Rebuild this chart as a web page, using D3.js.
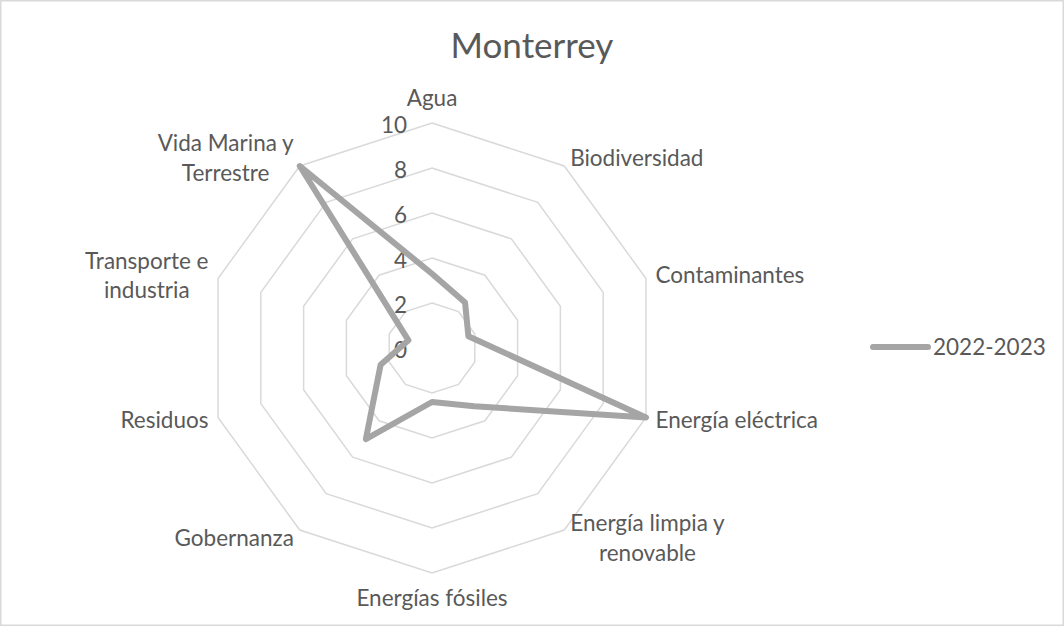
<!DOCTYPE html>
<html>
<head>
<meta charset="utf-8">
<script src="https://cdn.jsdelivr.net/npm/d3@7"></script>
<style>
	body { margin: 0; background: #fff; }
	svg { display: block; }
</style>
</head>
<body>
<svg id="chart" width="1064" height="626"></svg>
<script>
var chartTitle = "Monterrey";
var categories = ["Agua", "Biodiversidad", "Contaminantes", "Energía eléctrica", "Energía limpia y renovable",
	"Energías fósiles", "Gobernanza", "Residuos", "Transporte e industria", "Vida Marina y Terrestre"];
var seriesName = "2022-2023";
var seriesValues = [3.3, 2.5, 1.7, 10, 3.2, 2.4, 5, 2.4, 1.1, 10];
var radialTicks = [0, 2, 4, 6, 8, 10];

var width = 1064, height = 626;
var center = {x: 432, y: 348}, radius = 225;
var font = "Lato, 'Open Sans', sans-serif";
var textColor = "#595959", gridColor = "#d9d9d9", lineColor = "#a5a5a5";
var labelSize = 22.5, titleSize = 35, lineHeight = 29.5;
var capH = labelSize * 0.7;

var svg = d3.select("#chart");

svg.append("rect")
	.attr("x", 0.75)
	.attr("y", 0.75)
	.attr("width", width - 1.5)
	.attr("height", height - 1.5)
	.attr("fill", "#fff")
	.attr("stroke", gridColor)
	.attr("stroke-width", 1.5);

svg.append("text")
	.attr("x", width / 2)
	.attr("y", 58)
	.attr("text-anchor", "middle")
	.attr("font-family", font)
	.attr("font-size", titleSize)
	.attr("fill", textColor)
	.text(chartTitle);

var r = d3.scaleLinear()
	.domain([0, d3.max(radialTicks)])
	.range([0, radius]);

var angle = d3.scaleLinear()
	.domain([0, categories.length])
	.range([0, 2 * Math.PI]);

var group = svg.append("g")
	.attr("transform", "translate(" + center.x + "," + center.y + ")");

// grid rings, no spokes
group.selectAll(".ring")
	.data(radialTicks.filter(d => d > 0))
	.enter().append("path")
	.attr("class", "ring")
	.attr("d", function(t) {
		return d3.lineRadial()
			.angle((d, i) => angle(i))
			.radius(r(t))
			.curve(d3.curveLinearClosed)(categories);
	})
	.attr("fill", "none")
	.attr("stroke", gridColor)
	.attr("stroke-width", 1.5);

group.selectAll(".tick")
	.data(radialTicks)
	.enter().append("text")
	.attr("class", "tick")
	.attr("x", -25)
	.attr("y", d => -r(d) + 2 + capH / 2)
	.attr("text-anchor", "end")
	.attr("font-family", font)
	.attr("font-size", labelSize)
	.attr("fill", textColor)
	.text(d => d);

var radar = d3.lineRadial()
	.angle((d, i) => angle(i))
	.radius(d => r(d))
	.curve(d3.curveLinearClosed);

group.append("path")
	.datum(seriesValues)
	.attr("d", radar)
	.attr("fill", "none")
	.attr("stroke", lineColor)
	.attr("stroke-width", 6)
	.attr("stroke-linejoin", "round")
	.attr("stroke-linecap", "round");

// category labels, wrapped and placed outside each vertex
function wrapLines(text, label, maxW) {
	var lines = [], line = [];
	label.split(" ").forEach(function(w) {
		text.text(line.concat(w).join(" "));
		if (line.length && text.node().getComputedTextLength() > maxW) {
			lines.push(line.join(" "));
			line = [w];
		} else {
			line.push(w);
		}
	});
	lines.push(line.join(" "));
	text.text(null);
	return lines;
}

group.selectAll(".cat")
	.data(categories)
	.enter().append("text")
	.attr("class", "cat")
	.attr("text-anchor", "middle")
	.attr("font-family", font)
	.attr("font-size", labelSize)
	.attr("fill", textColor)
	.each(function(d, i) {
		var t = d3.select(this);
		var a = angle(i), s = Math.sin(a), c = Math.cos(a);
		var vx = r(10) * s, vy = -r(10) * c;
		var lines = wrapLines(t, d, 175);

		lines.forEach(function(l) {
			t.append("tspan").attr("x", 0).text(l);
		});
		var w = this.getBBox().width;

		var x, yc;
		if (Math.abs(s) < 0.1) {
			x = vx;
			yc = vy - c * 25;
		} else {
			var pad = 10 * Math.abs(s);
			x = s > 0 ? vx + pad + w / 2 : vx - pad - w / 2;
			yc = vy - c * 10;
		}
		var n = lines.length;
		t.selectAll("tspan")
			.attr("x", x)
			.attr("y", (l, k) => yc + (k - (n - 1) / 2) * lineHeight + capH / 2);
	});

// legend
var legend = svg.append("g")
	.attr("transform", "translate(873,347)");

legend.append("line")
	.attr("x1", 0)
	.attr("x2", 55)
	.attr("stroke", lineColor)
	.attr("stroke-width", 6)
	.attr("stroke-linecap", "round");

legend.append("text")
	.attr("x", 60)
	.attr("y", capH / 2)
	.attr("font-family", font)
	.attr("font-size", labelSize)
	.attr("fill", textColor)
	.text(seriesName);
</script>
</body>
</html>
